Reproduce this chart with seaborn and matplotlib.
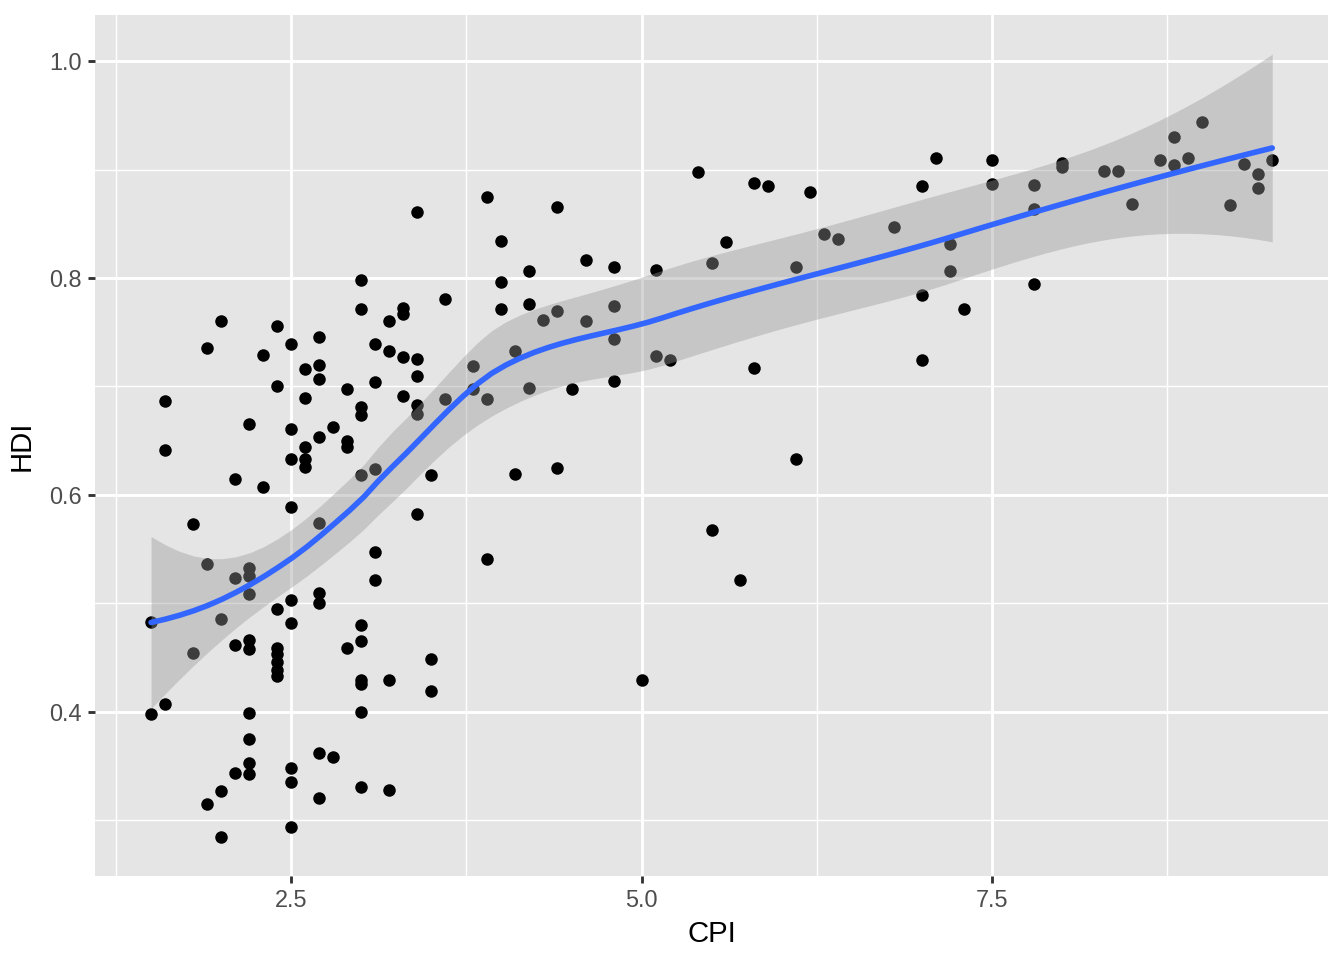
import matplotlib

matplotlib.use("Agg")
import matplotlib.pyplot as plt
import numpy as np
import seaborn as sns

# CPI vs HDI
cpi = [
    1.5, 1.5,
    1.6, 1.6, 1.6,
    1.8, 1.8,
    1.9, 1.9, 1.9,
    2.0, 2.0, 2.0, 2.0,
    2.1, 2.1, 2.1, 2.1,
    2.2, 2.2, 2.2, 2.2, 2.2, 2.2, 2.2, 2.2, 2.2, 2.2,
    2.3, 2.3,
    2.4, 2.4, 2.4, 2.4, 2.4, 2.4, 2.4, 2.4,
    2.5, 2.5, 2.5, 2.5, 2.5, 2.5, 2.5, 2.5, 2.5,
    2.6, 2.6, 2.6, 2.6, 2.6,
    2.7, 2.7, 2.7, 2.7, 2.7, 2.7, 2.7, 2.7, 2.7,
    2.8, 2.8,
    2.9, 2.9, 2.9, 2.9,
    3.0, 3.0, 3.0, 3.0, 3.0, 3.0, 3.0, 3.0, 3.0, 3.0, 3.0,
    3.1, 3.1, 3.1, 3.1, 3.1,
    3.2, 3.2, 3.2, 3.2,
    3.3, 3.3, 3.3, 3.3,
    3.4, 3.4, 3.4, 3.4, 3.4, 3.4,
    3.5, 3.5, 3.5,
    3.6, 3.6,
    3.8, 3.8,
    3.9, 3.9, 3.9,
    4.0, 4.0, 4.0,
    4.1, 4.1,
    4.2, 4.2, 4.2,
    4.3,
    4.4, 4.4, 4.4,
    4.5,
    4.6, 4.6,
    4.8, 4.8, 4.8, 4.8,
    5.0,
    5.1, 5.1,
    5.2,
    5.4,
    5.5, 5.5,
    5.6,
    5.7,
    5.8, 5.8,
    5.9,
    6.1, 6.1,
    6.2,
    6.3,
    6.4,
    6.8,
    7.0, 7.0, 7.0,
    7.1,
    7.2, 7.2,
    7.3,
    7.5, 7.5,
    7.8, 7.8, 7.8,
    8.0, 8.0,
    8.3,
    8.4,
    8.5,
    8.7,
    8.8, 8.8,
    8.9,
    9.0,
    9.2,
    9.3,
    9.4, 9.4,
    9.5,
]

hdi = [
    0.483, 0.398,
    0.687, 0.641, 0.407,
    0.573, 0.454,
    0.735, 0.536, 0.315,
    0.760, 0.486, 0.327, 0.285,
    0.615, 0.523, 0.462, 0.344,
    0.665, 0.533, 0.525, 0.509, 0.466, 0.458, 0.399, 0.375, 0.353, 0.343,
    0.729, 0.607,
    0.756, 0.700, 0.495, 0.459, 0.453, 0.446, 0.439, 0.433,
    0.739, 0.661, 0.633, 0.589, 0.503, 0.482, 0.348, 0.335, 0.294,
    0.716, 0.689, 0.644, 0.633, 0.626,
    0.746, 0.720, 0.707, 0.653, 0.574, 0.510, 0.500, 0.362, 0.321,
    0.663, 0.358,
    0.698, 0.650, 0.644, 0.459,
    0.798, 0.771, 0.681, 0.674, 0.618, 0.480, 0.465, 0.429, 0.426, 0.400, 0.331,
    0.739, 0.704, 0.624, 0.547, 0.522,
    0.760, 0.733, 0.429, 0.328,
    0.772, 0.767, 0.727, 0.691,
    0.861, 0.725, 0.710, 0.683, 0.675, 0.582,
    0.618, 0.449, 0.419,
    0.781, 0.688,
    0.719, 0.698,
    0.875, 0.688, 0.541,
    0.834, 0.796, 0.771,
    0.733, 0.619,
    0.806, 0.776, 0.699,
    0.761,
    0.865, 0.770, 0.625,
    0.698,
    0.817, 0.760,
    0.810, 0.774, 0.744, 0.705,
    0.429,
    0.807, 0.728,
    0.724,
    0.898,
    0.814, 0.568,
    0.833,
    0.522,
    0.888, 0.717,
    0.885,
    0.810, 0.633,
    0.879,
    0.841,
    0.836,
    0.847,
    0.885, 0.784, 0.724,
    0.911,
    0.831, 0.806,
    0.771,
    0.909, 0.887,
    0.886, 0.864, 0.794,
    0.906, 0.902,
    0.899,
    0.899,
    0.868,
    0.909,
    0.930, 0.904,
    0.911,
    0.944,
    0.867,
    0.905,
    0.896, 0.883,
    0.909,
]

x_ticks = [2.5, 5.0, 7.5]
y_ticks = [0.4, 0.6, 0.8, 1.0]


def local_fit(x, x0, span=0.75):
    # local quadratic with tricube weights; returns operator rows for value and slope
    n = len(x)
    q = int(np.floor(n * span))
    d = np.abs(x - x0)
    h = np.sort(d)[q - 1]
    w = np.clip(1 - (d / h) ** 3, 0, None) ** 3
    X = np.column_stack([np.ones(n), x - x0, (x - x0) ** 2])
    A = X.T @ (w[:, None] * X)
    B = np.linalg.solve(A, (X * w[:, None]).T)
    return B[0], B[1]


def kd_vertices(x, span=0.75, cell=0.2):
    # 1-d version of loess' kd tree: split at medians until cells are small
    fc = int(np.floor(len(x) * span * cell))
    margin = 0.005 * (x.max() - x.min())
    verts = {x.min() - margin, x.max() + margin}

    def split(lo, hi, pts):
        if len(pts) <= fc:
            return
        m = np.median(pts)
        if m <= lo or m >= hi:
            return
        verts.add(m)
        split(lo, m, pts[pts <= m])
        split(m, hi, pts[pts > m])

    split(x.min() - margin, x.max() + margin, x)
    return np.array(sorted(verts))


def interp_operator(x, verts, x_eval):
    vals, slopes = zip(*(local_fit(x, v) for v in verts))
    vals, slopes = np.array(vals), np.array(slopes)
    rows = []
    for g in x_eval:
        k = min(max(np.searchsorted(verts, g) - 1, 0), len(verts) - 2)
        h = verts[k + 1] - verts[k]
        t = (g - verts[k]) / h
        rows.append((2 * t**3 - 3 * t**2 + 1) * vals[k]
                    + (t**3 - 2 * t**2 + t) * h * slopes[k]
                    + (-2 * t**3 + 3 * t**2) * vals[k + 1]
                    + (t**3 - t**2) * h * slopes[k + 1])
    return np.array(rows)


def loess_band(x, y, n_grid=80):
    verts = kd_vertices(x)
    L = interp_operator(x, verts, x)
    resid = y - L @ y
    M = np.eye(len(x)) - L
    MM = M.T @ M
    one_delta = np.trace(MM)
    two_delta = np.trace(MM @ MM)
    sigma = np.sqrt(np.sum(resid**2) / one_delta)
    df = one_delta**2 / two_delta
    z = 1.959964
    t = z + (z**3 + z) / (4 * df) + (5 * z**5 + 16 * z**3 + 3 * z) / (96 * df**2)

    grid = np.linspace(x.min(), x.max(), n_grid)
    Lg = interp_operator(x, verts, grid)
    fit = Lg @ y
    se = sigma * np.sqrt(np.sum(Lg**2, axis=1))
    return grid, fit, fit - t * se, fit + t * se


x = np.array(cpi)
y = np.array(hdi)
grid, fit, lo, hi = loess_band(x, y)

sns.set_theme(style="white")
plt.rcParams["font.family"] = ["Liberation Sans", "DejaVu Sans"]

fig = plt.figure(figsize=(7, 5), dpi=192)
ax = fig.add_axes([95 / 1344, 1 - 875.7 / 960, (1328.3 - 95) / 1344, (875.7 - 15) / 960])
ax.set_facecolor("#E5E5E5")

sns.scatterplot(x=x, y=y, color="black", s=22, linewidth=0, ax=ax, zorder=2)
ax.fill_between(grid, lo, hi, color="#999999", alpha=0.4, linewidth=0, zorder=3)
sns.lineplot(x=grid, y=fit, color="#3366FF", linewidth=2.1, estimator=None, ax=ax, zorder=4)

# ggplot-style 5% expansion, ribbon included
x_span = x.max() - x.min()
ax.set_xlim(x.min() - 0.05 * x_span, x.max() + 0.05 * x_span)
y_min = min(y.min(), lo.min())
y_max = max(y.max(), hi.max())
y_span = y_max - y_min
ax.set_ylim(y_min - 0.05 * y_span, y_max + 0.05 * y_span)

ax.set_xticks(x_ticks)
ax.set_xticklabels([f"{v:.1f}" for v in x_ticks])
ax.set_yticks(y_ticks)
ax.set_yticklabels([f"{v:.1f}" for v in y_ticks])
ax.set_xticks([1.25, 3.75, 6.25, 8.75], minor=True)
ax.set_yticks([0.3, 0.5, 0.7, 0.9], minor=True)

ax.set_axisbelow(True)
ax.grid(which="major", color="white", linewidth=1.07)
ax.grid(which="minor", color="white", linewidth=0.53)
for spine in ax.spines.values():
    spine.set_visible(False)

ax.tick_params(which="major", direction="out", length=2.75, width=1.07, color="#333333",
               labelsize=8.8, labelcolor="#4D4D4D", pad=2.2, bottom=True, left=True)
ax.tick_params(which="minor", length=0)

ax.set_xlabel("CPI", fontsize=11, color="black", labelpad=3)
ax.set_ylabel("HDI", fontsize=11, color="black", labelpad=5)

fig.savefig("out.png", dpi=192, facecolor="white")
